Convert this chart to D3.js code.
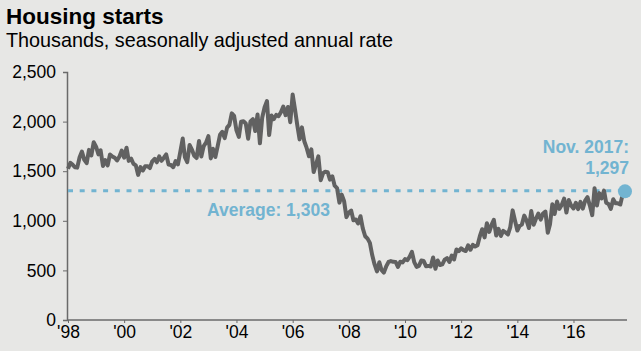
<!DOCTYPE html>
<html>
<head>
<meta charset="utf-8">
<script src="https://cdn.jsdelivr.net/npm/d3@7"></script>
<style>
  html, body { margin: 0; padding: 0; background: #e7e7e5; }
  svg { display: block; font-family: "Liberation Sans", Arial, sans-serif; }
</style>
</head>
<body>
<svg id="chart" width="641" height="351"></svg>
<script>
// Monthly housing starts, thousands SAAR, Jan 1998 - Nov 2017
const years = d3.range(1998, 2018);
const starts1998 = [1525, 1584, 1567, 1540, 1536, 1641, 1698, 1614, 1582, 1715, 1660, 1792];
const starts1999 = [1748, 1670, 1710, 1553, 1611, 1559, 1669, 1648, 1635, 1608, 1648, 1708];
const starts2000 = [1636, 1737, 1604, 1626, 1575, 1559, 1463, 1541, 1507, 1549, 1551, 1532];
const starts2001 = [1600, 1625, 1590, 1649, 1605, 1636, 1670, 1567, 1562, 1540, 1602, 1568];
const starts2002 = [1698, 1829, 1642, 1592, 1764, 1717, 1655, 1633, 1804, 1648, 1753, 1788];
const starts2003 = [1853, 1629, 1726, 1643, 1751, 1867, 1897, 1833, 1939, 1967, 2083, 2057];
const starts2004 = [1911, 1846, 1998, 2003, 1981, 1828, 2002, 2024, 1905, 2072, 1782, 2042];
const starts2005 = [2144, 2207, 1864, 2061, 2025, 2068, 2054, 2095, 2151, 2065, 2147, 1994];
const starts2006 = [2273, 2119, 1969, 1821, 1942, 1802, 1737, 1650, 1720, 1491, 1570, 1649];
const starts2007 = [1409, 1480, 1495, 1490, 1415, 1448, 1354, 1330, 1183, 1264, 1197, 1037];
const starts2008 = [1084, 1103, 1005, 1013, 973, 1046, 923, 844, 820, 777, 652, 560];
const starts2009 = [490, 582, 505, 478, 540, 585, 594, 586, 585, 534, 588, 581];
const starts2010 = [614, 604, 636, 687, 583, 536, 546, 599, 594, 543, 545, 539];
const starts2011 = [630, 517, 600, 554, 561, 608, 623, 585, 650, 610, 711, 694];
const starts2012 = [723, 704, 695, 753, 708, 757, 740, 754, 847, 915, 833, 976];
const starts2013 = [888, 962, 1010, 852, 919, 847, 898, 883, 863, 936, 1105, 1003];
const starts2014 = [902, 951, 963, 1052, 1003, 927, 1098, 960, 1023, 1074, 1012, 1073];
const starts2015 = [1093, 880, 962, 1166, 1069, 1194, 1120, 1159, 1223, 1083, 1210, 1155];
const starts2016 = [1125, 1182, 1117, 1191, 1122, 1203, 1239, 1153, 1057, 1328, 1154, 1279];
const starts2017 = [1226, 1305, 1183, 1170, 1120, 1218, 1177, 1176, 1164, 1264, 1297];

const yTicks = [0, 500, 1000, 1500, 2000, 2500];
const xTickYears = [1998, 2000, 2002, 2004, 2006, 2008, 2010, 2012, 2014, 2016];
const average = 1303;
const latestLabel = ["Nov. 2017:", "1,297"];
const averageLabel = "Average: 1,303";
const title = "Housing starts";
const subtitle = "Thousands, seasonally adjusted annual rate";

const allYears = [starts1998, starts1999, starts2000, starts2001, starts2002, starts2003,
  starts2004, starts2005, starts2006, starts2007, starts2008, starts2009, starts2010,
  starts2011, starts2012, starts2013, starts2014, starts2015, starts2016, starts2017];
const data = [];
allYears.forEach((arr, i) => arr.forEach((v, m) => data.push({ date: new Date(years[i], m, 1), value: v })));
const last = data[data.length - 1];

const svg = d3.select("#chart");
const blue = "#72b4d1";
const lineColor = "#616161";
const axisColor = "#6a6a6a";

const x = d3.scaleTime().domain([data[0].date, last.date]).range([68, 625]);
const y = d3.scaleLinear().domain([0, 2500]).range([320, 72]);

// Title
svg.append("text").attr("x", 6).attr("y", 23.5).attr("font-size", 22.5).attr("font-weight", "bold")
  .attr("fill", "#000").text(title);
svg.append("text").attr("x", 6).attr("y", 46.5).attr("font-size", 19.8)
  .attr("fill", "#000").text(subtitle);

// Y axis
const yAxis = svg.append("g").attr("transform", "translate(67,0)")
  .call(d3.axisLeft(y).tickValues(yTicks).tickSize(4).tickPadding(7).tickFormat(d3.format(",")));
yAxis.select(".domain").attr("stroke", axisColor).attr("stroke-width", 1.5);
yAxis.selectAll(".tick line").attr("stroke", axisColor);
yAxis.selectAll("text").attr("font-size", 17.5).attr("fill", "#000")
  .attr("font-family", "Liberation Sans, Arial, sans-serif");

// X axis
const xAxis = svg.append("g").attr("transform", "translate(0,320)")
  .call(d3.axisBottom(x).tickValues(xTickYears.map(yr => new Date(yr, 0, 1)))
    .tickSize(3).tickPadding(3).tickFormat(d => "'" + String(d.getFullYear()).slice(2)));
xAxis.select(".domain").attr("d", "M67,0H627").attr("stroke", axisColor).attr("stroke-width", 1.5);
xAxis.selectAll(".tick line").attr("stroke", axisColor);
xAxis.selectAll("text").attr("font-size", 17.5).attr("fill", "#000")
  .attr("font-family", "Liberation Sans, Arial, sans-serif");

// Average line
svg.append("line").attr("x1", 68).attr("x2", x(last.date)).attr("y1", y(average)).attr("y2", y(average))
  .attr("stroke", blue).attr("stroke-width", 3.2).attr("stroke-dasharray", "5,6.7");

// Data line
svg.append("path").datum(data)
  .attr("fill", "none").attr("stroke", lineColor).attr("stroke-width", 4)
  .attr("stroke-linejoin", "round")
  .attr("d", d3.line().x(d => x(d.date)).y(d => y(d.value)));

// Latest point
svg.append("circle").attr("cx", x(last.date)).attr("cy", y(last.value)).attr("r", 7).attr("fill", blue);

// Labels
svg.append("text").attr("x", 207).attr("y", 215.5).attr("font-size", 17.5).attr("font-weight", "bold")
  .attr("fill", blue).text(averageLabel);
svg.selectAll("text.latest").data(latestLabel).join("text").attr("class", "latest")
  .attr("x", 629).attr("y", (d, i) => 152.5 + i * 21).attr("text-anchor", "end")
  .attr("font-size", 17.5).attr("font-weight", "bold").attr("fill", blue).text(d => d);
</script>
</body>
</html>
